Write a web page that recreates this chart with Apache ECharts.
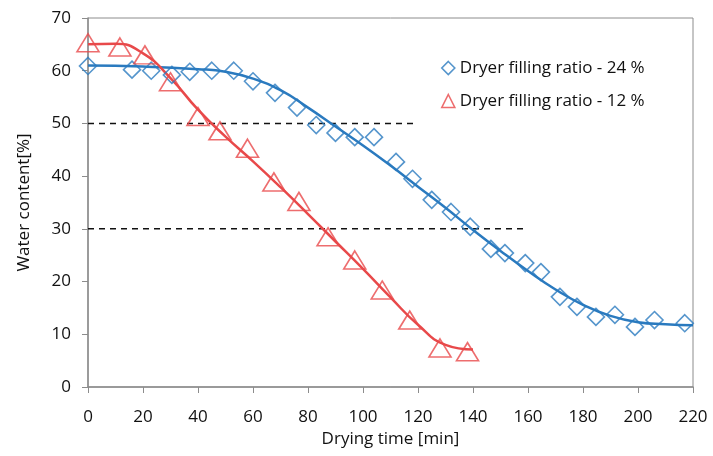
<!DOCTYPE html>
<html>
<head>
<meta charset="utf-8">
<script src="https://cdn.jsdelivr.net/npm/echarts@6/dist/echarts.min.js"></script>
<style>
  html, body { margin: 0; padding: 0; background: #fff; }
  #chart { width: 713px; height: 456px; }
</style>
</head>
<body>
<div id="chart"></div>
<script>
// measured points, 24 % filling ratio
const time24 = [0, 16, 23, 30.5, 37, 45, 53, 60, 68, 76, 83, 90, 97, 104, 112, 118, 125, 132, 139, 146.5, 151.6, 159, 164.7, 171.6, 177.8, 184.7, 191.6, 198.9, 206, 217];
const water24 = [60.9, 60.2, 60, 59.2, 59.8, 60, 60, 58, 55.8, 53, 49.7, 48.2, 47.4, 47.4, 42.7, 39.5, 35.5, 33.2, 30.4, 26.2, 25.4, 23.5, 21.8, 17.1, 15.2, 13.3, 13.7, 11.4, 12.7, 12.1];

// measured points, 12 % filling ratio
const time12 = [0, 11.6, 20.7, 30, 40, 48, 58, 67.6, 76.7, 87.3, 97, 107, 117, 128, 138];
const water12 = [65.3, 64.5, 63, 57.9, 51.3, 48.6, 45.3, 38.9, 35.2, 28.5, 24.1, 18.4, 12.7, 7.4, 6.7];

// fitted curves
const fitTime24 = [0, 20, 40, 50, 60, 70, 80, 90, 100, 110, 120, 130, 140, 150, 160, 170, 180, 190, 200, 210, 220];
const fitWater24 = [61, 60.8, 60.3, 59.8, 58.5, 56.3, 53, 49.4, 45.8, 42, 38, 34, 29.8, 25.8, 22, 18.5, 15.6, 13.5, 12.3, 11.9, 11.7];
const fitTime12 = [0, 10, 20, 30, 40, 50, 60, 70, 80, 90, 100, 110, 120, 130, 140];
const fitWater12 = [65, 65.1, 63.3, 58.6, 52.6, 47.5, 42.8, 37.9, 32.8, 27.6, 22.4, 17, 11.8, 8, 7.1];

// dashed reference levels
const refLevels = [50, 30];
const refEnds = [120, 160];

const blue = '#2a7abf';
const red = '#e8494a';

const pairs = (xs, ys) => xs.map((x, i) => [x, ys[i]]);

const font = '"Open Sans", sans-serif';

const series = [
    {
        name: 'Dryer filling ratio - 24 %',
        type: 'scatter',
        data: pairs(time24, water24),
        symbol: 'diamond',
        symbolSize: [17, 17],
        itemStyle: { color: 'rgba(255,255,255,0)', borderColor: blue, borderWidth: 1.6 },
        z: 3
    },
    {
        name: 'Dryer filling ratio - 12 %',
        type: 'scatter',
        data: pairs(time12, water12),
        symbol: 'triangle',
        symbolSize: [22, 18],
        itemStyle: { color: 'rgba(255,255,255,0)', borderColor: red, borderWidth: 1.6 },
        z: 3
    },
    {
        name: 'fit24',
        type: 'line',
        data: pairs(fitTime24, fitWater24),
        smooth: true,
        showSymbol: false,
        lineStyle: { color: blue, width: 2.5 },
        z: 2
    },
    {
        name: 'fit12',
        type: 'line',
        data: pairs(fitTime12, fitWater12),
        smooth: true,
        showSymbol: false,
        lineStyle: { color: red, width: 2.5 },
        z: 2
    }
];

refLevels.forEach((lvl, i) => {
    series.push({
        name: 'ref' + lvl,
        type: 'line',
        data: [[0, lvl], [refEnds[i], lvl]],
        showSymbol: false,
        lineStyle: { color: '#111', width: 1.5, type: [6, 5] },
        z: 1
    });
});

const option = {
    animation: false,
    backgroundColor: '#fff',
    grid: {
        left: 88, right: 20, top: 18, bottom: 69,
        show: true, borderColor: '#8c8c8c', borderWidth: 1
    },
    legend: {
        data: [
            { name: 'Dryer filling ratio - 24 %', icon: 'diamond', itemStyle: { color: 'rgba(255,255,255,0)', borderColor: blue, borderWidth: 1.6 } },
            { name: 'Dryer filling ratio - 12 %', icon: 'triangle', itemStyle: { color: 'rgba(255,255,255,0)', borderColor: red, borderWidth: 1.6 } }
        ],
        orient: 'vertical',
        left: 436,
        top: 53,
        itemWidth: 13,
        itemHeight: 13,
        itemGap: 13,
        textStyle: { fontFamily: font, fontSize: 17, color: '#111', lineHeight: 20 }
    },
    xAxis: {
        type: 'value',
        min: 0, max: 220, interval: 20,
        name: 'Drying time [min]',
        nameLocation: 'middle',
        nameGap: 41,
        nameTextStyle: { fontFamily: font, fontSize: 17, color: '#111' },
        axisLine: { lineStyle: { color: '#8c8c8c', width: 1.5 } },
        axisTick: { show: true, length: 6, lineStyle: { color: '#8c8c8c' } },
        axisLabel: { fontFamily: font, fontSize: 17, color: '#111', margin: 22 },
        splitLine: { show: false }
    },
    yAxis: {
        type: 'value',
        min: 0, max: 70, interval: 10,
        name: 'Water content[%]',
        nameLocation: 'middle',
        nameGap: 55,
        nameTextStyle: { fontFamily: font, fontSize: 17, color: '#111' },
        axisLine: { show: true, lineStyle: { color: '#8c8c8c', width: 1.5 } },
        axisTick: { show: true, length: 6, lineStyle: { color: '#8c8c8c' } },
        axisLabel: { fontFamily: font, fontSize: 17, color: '#111', margin: 17 },
        splitLine: { show: false }
    },
    series: series
};

echarts.init(document.getElementById('chart')).setOption(option);
</script>
</body>
</html>
